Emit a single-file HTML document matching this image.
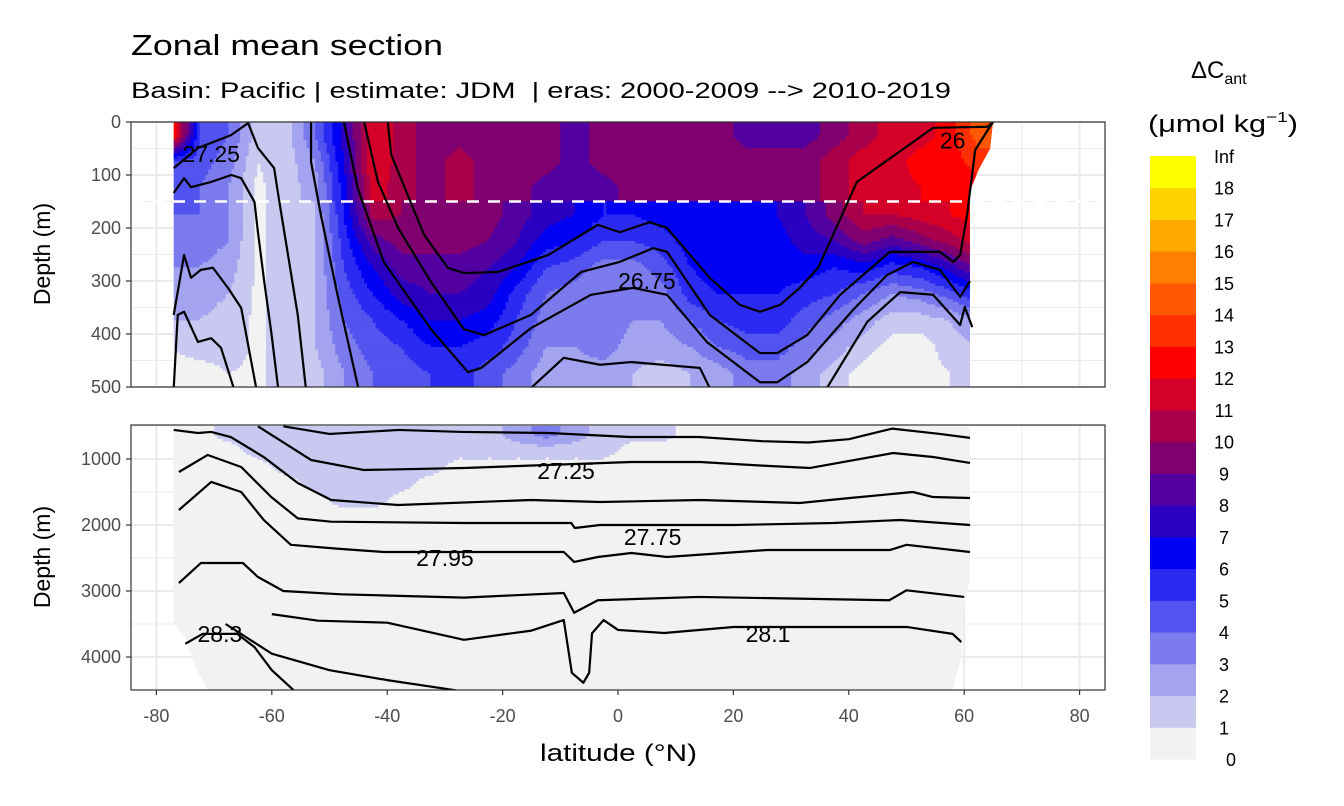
<!DOCTYPE html>
<html><head><meta charset="utf-8">
<style>
html,body{margin:0;padding:0;background:#fff;}
svg{display:block;font-family:"Liberation Sans",Arial,sans-serif;}
</style></head>
<body>
<svg id="chart" width="1344" height="806" viewBox="0 0 1344 806" xmlns="http://www.w3.org/2000/svg">
<rect width="1344" height="806" fill="#fff"/>
<text x="131" y="55" font-size="29" textLength="312" lengthAdjust="spacingAndGlyphs" fill="#000">Zonal mean section</text>
<text x="131" y="98" font-size="22" textLength="820" lengthAdjust="spacingAndGlyphs" fill="#000" xml:space="preserve">Basin: Pacific | estimate: JDM&#160; | eras: 2000-2009 --&gt; 2010-2019</text>
<defs>
<clipPath id="clipTopPanel"><rect x="131" y="122" width="974" height="265"/></clipPath>
<clipPath id="clipBotPanel"><rect x="131" y="425" width="974" height="265"/></clipPath>
<clipPath id="clipTopData"><polygon id="topDataPoly"/></clipPath>
<clipPath id="clipBotData"><polygon id="botDataPoly"/></clipPath>
</defs>
<g id="topPanel"></g>
<g id="botPanel"></g>
<g id="axes"></g>
<g id="legend">
<text x="1191" y="78" font-size="24">ΔC<tspan font-size="16" dy="6">ant</tspan></text>
<text x="1148" y="132" font-size="24" textLength="150" lengthAdjust="spacingAndGlyphs">(μmol kg<tspan font-size="15" dy="-10">−1</tspan><tspan dy="10">)</tspan></text>
</g>
</svg>
<script>
// ---- data ----
const colors = ["#f2f2f2","#c8c8f0","#a3a3f0","#7b7bed","#5353ef","#2a2af2","#0000f5","#2b00c0","#5300a0","#800070","#a8004a","#d40028","#ff0000","#ff3000","#ff5800","#ff8000","#ffa800","#ffd200","#ffff00"];
const legendLabels = ["0","1","2","3","4","5","6","7","8","9","10","11","12","13","14","15","16","17","18","Inf"];
const latCenters = [-77.5,-72.5,-67.5,-62.5,-57.5,-52.5,-47.5,-42.5,-37.5,-32.5,-27.5,-22.5,-17.5,-12.5,-7.5,-2.5,2.5,7.5,12.5,17.5,22.5,27.5,32.5,37.5,42.5,47.5,52.5,57.5,62.5];
const topDepthEdges = [0,50,100,150,200,250,300,350,400,450,500];
const topValues = [
[14,5,4,4,4,3,3,2,1,0.5],
[5,4.5,4,4,3.5,3,2.5,2,1.5,0.5],
[4,3.5,3,3,3,2.5,2,1.5,1.5,1],
[1.5,1,0.8,0.8,0.8,0.8,0.8,0.8,0.8,0.8],
[1.5,1.5,1.5,1.5,1.5,1.5,1.5,1.5,1.5,1.5],
[4,3,2.5,2,2,2,2,2,2,1.5],
[7.5,7,6.5,6,5.5,5,4.5,4,3.5,3],
[12,12,11.5,10.5,8.5,7,6,5,4.5,4],
[10.5,10.5,10.5,10,9.5,8.5,7.5,6,5,4.5],
[9.5,9.5,9.5,9.5,9.5,8.5,8,7,6,5],
[9.5,10.5,10.5,9.5,9.5,8.5,8,7,6,5.5],
[9.5,9.5,9.5,9.5,9,8,7.5,6.5,5.5,4.5],
[9.5,9.5,9.5,8.5,8,7,5.5,5,4.5,3.5],
[9.5,9.5,8.5,7.5,6.5,5,4,3.5,3,2.5],
[8.5,8.5,8.5,7,6,4.5,3.5,3.5,3,2.5],
[9.5,9.5,8.5,6,5,3.5,3.5,4,3.5,2.5],
[9.5,9.5,9.5,6,5,3.5,3,3,2.5,2],
[9.5,9.5,9.5,6.5,5.5,4.5,3.5,3,2.5,1.5],
[9.5,9.5,9.5,6.5,6.5,6,5.5,4,3,2],
[9.5,9.5,9.5,6.5,6.5,6.5,6,5,4,2.5],
[8.5,9.5,9.5,6.5,6.5,6.5,6,5.5,4.5,3.5],
[8.5,9.5,9.5,7,6.5,6.5,6,5.5,4.5,3.5],
[8.5,9.5,9.5,8,7.5,6.5,5.5,4.5,3.5,2.5],
[9.5,10.5,10.5,9.5,8,6,5,3.5,2.5,1.5],
[10.5,11.5,11.5,11,9.5,6.5,4,2.5,1.5,0.5],
[11.5,11.5,11.5,11,8.5,5.5,3,1.5,0.5,0.5],
[11.5,12.5,12,11.5,9.5,6,3.5,1.5,0.5,0.5],
[12.5,12.5,12.5,12,10.5,7.5,4.5,2,1.5,1],
[14.5,13.5,12.5,12.5,11.5,9.5,6,3,2,1.5]
];
const topBreakDepth = 150;
const botDepthEdges = [500,750,1000,1250,1500,1750,2000,4500];
const botValues = [
[0.5,0.5,0.5,0.5,0.5,0.5,0.5],[0.5,0.5,0.5,0.5,0.5,0.5,0.5],[1.5,0.5,0.5,0.5,0.5,0.5,0.5],
[1.5,1.5,0.5,0.5,0.5,0.5,0.5],[1.5,1.5,1.5,0.5,0.5,0.5,0.5],[1.5,1.5,1.5,1.5,0.5,0.5,0.5],
[1.5,1.5,1.5,1.5,1.5,0.5,0.5],[1.5,1.5,1.5,1.5,1.5,0.5,0.5],[1.5,1.5,1.5,1.5,0.5,0.5,0.5],
[1.5,1.5,1.5,0.5,0.5,0.5,0.5],[1.5,1.5,0.5,0.5,0.5,0.5,0.5],[1.5,1.5,0.5,0.5,0.5,0.5,0.5],
[2.5,1.5,0.5,0.5,0.5,0.5,0.5],[3.5,1.5,0.5,0.5,0.5,0.5,0.5],[2.5,1.5,0.5,0.5,0.5,0.5,0.5],
[1.5,1.5,0.5,0.5,0.5,0.5,0.5],[1.5,0.5,0.5,0.5,0.5,0.5,0.5],[1.5,0.5,0.5,0.5,0.5,0.5,0.5],
[0.5,0.5,0.5,0.5,0.5,0.5,0.5],[0.5,0.5,0.5,0.5,0.5,0.5,0.5],[0.5,0.5,0.5,0.5,0.5,0.5,0.5],
[0.5,0.5,0.5,0.5,0.5,0.5,0.5],[0.5,0.5,0.5,0.5,0.5,0.5,0.5],[0.5,0.5,0.5,0.5,0.5,0.5,0.5],
[0.5,0.5,0.5,0.5,0.5,0.5,0.5],[0.5,0.5,0.5,0.5,0.5,0.5,0.5],[0.5,0.5,0.5,0.5,0.5,0.5,0.5],
[0.5,0.5,0.5,0.5,0.5,0.5,0.5],[0.5,0.5,0.5,0.5,0.5,0.5,0.5]
];
// data extents [depth, lat]
const topLeftEdge = [[0,-77],[500,-77]];
const topRightEdge = [[0,65],[50,64.5],[90,62.5],[130,61],[500,61]];
const botLeftEdge = [[500,-77],[3500,-77],[3700,-75],[4200,-73],[4500,-71]];
const botRightEdge = [[500,61],[2800,61],[3200,60],[4000,59.5],[4500,58]];
// isopycnals [lat, depth]
const topLines = [
[[-77,87],[-72.8,49],[-67.1,25],[-64.1,2],[-62.4,49],[-59.6,87],[-58.8,143],[-55.5,364],[-54.1,502]],
[[-77,134],[-75.2,106],[-74,123],[-70.5,113],[-67,100],[-65.3,106],[-63,151],[-62.4,208],[-61.3,302],[-60.1,396],[-58.9,502]],
[[-77,364],[-75.2,251],[-74,294],[-72.3,279],[-70.2,275],[-67.6,313],[-65.3,351],[-62.7,502]],
[[-77,502],[-76.3,364],[-75.2,358],[-72.8,415],[-70.5,408],[-68.8,426],[-66.6,502]],
[[-53.2,0],[-53.2,75],[-51.5,175],[-48.5,332],[-45,502]],
[[-47.5,0],[-45.1,125],[-40.6,264],[-32.4,391],[-26,472],[-23.7,464],[-15.1,389],[-4.7,326],[2.6,313],[8.5,326],[15.4,415],[24.6,491],[27.6,491],[32.8,453],[40.7,355],[46.6,289],[51.1,264],[55.8,279],[59.3,330],[61,300]],
[[-44,0],[-41.6,113],[-38.1,200],[-32.4,302],[-26.7,391],[-23.2,402],[-15.1,364],[-6.4,283],[0.3,264],[6.1,238],[8.5,245],[15.9,364],[24.6,436],[27.6,436],[32.8,402],[38.5,326],[47.1,245],[55.8,245],[58.1,264],[59.3,251],[60.5,175],[61.9,53],[64.1,15],[65,0]],
[[-39.9,0],[-39.3,62],[-33.6,213],[-29.5,275],[-26.7,285],[-20.8,283],[-12.1,251],[-3.5,194],[0.3,208],[5.5,189],[8.5,200],[15.9,294],[21.1,345],[24.6,358],[28.1,345],[31.5,313],[34.7,275],[41.4,113],[54.6,11],[64,9],[65,0]],
[[-15.1,502],[-9.4,445],[-3.1,458],[2.3,453],[14.2,464],[15.9,502]],
[[36.2,502],[43.2,377],[48.9,321],[54.6,326],[59.3,383],[60.1,349],[61.4,387]]
];
const botLines = [
[[-58,505],[-50,620],[-38,560],[-27,590],[-12,606],[2,667],[14,667],[25,730],[33,750],[40,700],[47.5,540],[55.8,620],[61,680]],
[[-62.4,505],[-53.2,1015],[-44,1167],[-26.7,1136],[2.3,1045],[14.2,1045],[25,1100],[33.3,1136],[47.7,909],[54.6,970],[61,1060]],
[[-77,560],[-72.8,606],[-70.5,590],[-67.1,667],[-61.4,970],[-55.5,1364],[-49.7,1621],[-38.1,1697],[-15.1,1621],[-3.1,1652],[14.2,1621],[31.5,1667],[40.2,1591],[51.1,1500],[54.6,1576],[61,1591]],
[[-76.1,1197],[-71.1,939],[-65.3,1121],[-60.1,1576],[-55.5,1900],[-49.7,1950],[-26.7,1970],[-8.1,1970],[-7.5,2045],[-3.1,2000],[20,2000],[37.3,1970],[48.9,1924],[61,2000]],
[[-76.1,1773],[-70.5,1348],[-65.3,1500],[-61.4,1924],[-56.7,2300],[-48.5,2360],[-40.6,2409],[-9.4,2409],[-7.6,2560],[-3.5,2485],[2.3,2424],[8.5,2485],[25.8,2379],[47.1,2379],[50,2300],[61,2409]],
[[-76.1,2879],[-72.3,2576],[-65,2576],[-62.4,2788],[-58,3000],[-48,3050],[-26.7,3100],[-9.4,3030],[-7.6,3330],[-3.5,3140],[14,3090],[47,3140],[50,2990],[60,3090]],
[[-60,3350],[-52,3450],[-40,3480],[-26.7,3740],[-15,3600],[-9.4,3440],[-8,4240],[-6,4390],[-5,4240],[-4.5,3640],[-2.5,3440],[0,3590],[8,3636],[20,3545],[50,3545],[58,3650],[59.5,3773]],
[[-68,3500],[-60,3950],[-50,4200],[-40,4350],[-30,4480],[-27,4520]],
[[-75,3800],[-72,3650],[-66,3650],[-63,3850],[-60,4200],[-56,4520]]
];
const topLabels = [["27.25",-70.5,60],["26.75",5,300],["26",58,35]];
const botLabels = [["27.25",-9,1180],["27.75",6,2180],["27.95",-30,2500],["28.3",-69,3650],["28.1",26,3650]];
const xTicks = [-80,-60,-40,-20,0,20,40,60,80];
const xMinor = [-70,-50,-30,-10,10,30,50,70];
const topYTicks = [0,100,200,300,400,500];
const topYMinor = [50,150,250,350,450];
const botYTicks = [1000,2000,3000,4000];
const botYMinor = [500,1500,2500,3500,4500];

// ---- scales ----
const NS="http://www.w3.org/2000/svg";
const x = lat => 618 + lat*5.77;
const yT = d => 122 + d*0.53;
const yB = d => 459 + (d-1000)*0.066;
const colorOf = v => colors[Math.max(0,Math.min(18,Math.floor(v)))];
function mk(tag, attrs, parent){const e=document.createElementNS(NS,tag);for(const k in attrs)e.setAttribute(k,attrs[k]);parent.appendChild(e);return e;}

function locate(arr, v, lo, hi){
  if(v<=arr[lo]) return [lo,lo,0];
  if(v>=arr[hi]) return [hi,hi,0];
  for(let i=lo;i<hi;i++){ if(v>=arr[i]&&v<=arr[i+1]) return [i,i+1,(v-arr[i])/(arr[i+1]-arr[i])]; }
  return [hi,hi,0];
}
// bilinear sampling of the gridded field (display only); no interpolation across breakDepth
function sample(values, depthCenters, edges, breakDepth, lat, d){
  const [i0,i1,fx]=locate(latCenters,lat,0,latCenters.length-1);
  let lo=0, hi=depthCenters.length-1;
  if(breakDepth!==null){
    const bi = edges.indexOf(breakDepth);
    if(d<breakDepth) hi=bi-1; else lo=bi;
  }
  const [j0,j1,fy]=locate(depthCenters,d,lo,hi);
  const a=values[i0][j0]*(1-fx)+values[i1][j0]*fx;
  const b=values[i0][j1]*(1-fx)+values[i1][j1]*fx;
  return a*(1-fy)+b*fy;
}

function panel(g, yS, y0, y1, yt, ym, values, edges, breakDepth, dStep, leftE, rightE, polyId, clipId, lines, labels, prefix){
  const grid = mk('g',{},g);
  
  
  xMinor.forEach(v=>mk('line',{x1:x(v),x2:x(v),y1:y0,y2:y1,stroke:'#ebebeb','stroke-width':1},grid));
  xTicks.forEach(v=>mk('line',{x1:x(v),x2:x(v),y1:y0,y2:y1,stroke:'#ebebeb','stroke-width':2},grid));
  ym.forEach(v=>{const yy=yS(v); if(yy>y0&&yy<y1) mk('line',{x1:131,x2:1105,y1:yy,y2:yy,stroke:'#ebebeb','stroke-width':1},grid);});
  yt.forEach(v=>mk('line',{x1:131,x2:1105,y1:yS(v),y2:yS(v),stroke:'#ebebeb','stroke-width':2},grid));
  const pts=[]; leftE.forEach(p=>pts.push(x(p[1])+','+yS(p[0])));
  rightE.slice().reverse().forEach(p=>pts.push(x(p[1])+','+yS(p[0])));
  document.getElementById(polyId).setAttribute('points', pts.join(' '));
  const outer = mk('g',{'clip-path':'url(#'+clipId+')'},g);
  
  
  const dc = edges.slice(0,-1).map((e,j)=>(e+edges[j+1])/2);
  const dTop=edges[0], dBot=edges[edges.length-1];
  const latStep=0.5, lat0=-78, lat1=66;
  for(let d=dTop; d<dBot; d+=dStep){
    const dm=d+dStep/2;
    let runStart=lat0, runCol=null;
    for(let la=lat0; la<=lat1+1e-9; la+=latStep){
      const c = la<lat1 ? colorOf(sample(values,dc,edges,breakDepth,la+latStep/2,dm)) : null;
      if(c!==runCol){
        if(runCol!==null){
          const r=mk('rect',{x:x(runStart),y:yS(d)-0.3,width:x(la)-x(runStart)+0.6,height:yS(d+dStep)-yS(d)+0.6,fill:runCol},outer);
          
          
        }
        runStart=la; runCol=c;
      }
    }
  }
  const lg = mk('g',{'clip-path':'url(#clip'+(prefix==='upper'?'TopPanel':'BotPanel')+')'},g);
  
  
  if(prefix==='upper'){
    const dl = mk('line',{x1:131,x2:1105,y1:yS(150),y2:yS(150),stroke:'#fff','stroke-width':2.5,'stroke-dasharray':'12,9'},lg);
    
    
  }
  lines.forEach(L=>{
    const p = mk('polyline',{points:L.map(q=>x(q[0])+','+yS(q[1])).join(' '),fill:'none',stroke:'#000','stroke-width':2.2,'stroke-linejoin':'round'},lg);
    
    
  });
  labels.forEach(l=>{
    const t = mk('text',{x:x(l[1]),y:yS(l[2])+8,'font-size':23,'text-anchor':'middle',fill:'#000'},lg);
    t.textContent=l[0];
    
    
  });
  const b = mk('rect',{x:131,y:y0,width:974,height:y1-y0,fill:'none',stroke:'#333','stroke-width':1.2},g);
  
  
}
panel(document.getElementById('topPanel'), yT, 122, 387, topYTicks, topYMinor, topValues, topDepthEdges, topBreakDepth, 5, topLeftEdge, topRightEdge, 'topDataPoly','clipTopData', topLines, topLabels, 'upper');
panel(document.getElementById('botPanel'), yB, 425, 690, botYTicks, botYMinor, botValues, botDepthEdges, null, 40, botLeftEdge, botRightEdge, 'botDataPoly','clipBotData', botLines, botLabels, 'lower');

const ax = document.getElementById('axes');
xTicks.forEach(v=>{
  mk('line',{x1:x(v),x2:x(v),y1:690,y2:695,stroke:'#333','stroke-width':1.2},ax);
  const t=mk('text',{x:x(v),y:722,'font-size':18,'text-anchor':'middle',fill:'#4d4d4d'},ax);
  t.textContent=v;
  
  
});
[[topYTicks,yT],[botYTicks,yB]].forEach(([ticks,s])=>ticks.forEach(v=>{
  mk('line',{x1:126,x2:131,y1:s(v),y2:s(v),stroke:'#333','stroke-width':1.2},ax);
  const t=mk('text',{x:121,y:s(v)+6,'font-size':18,'text-anchor':'end',fill:'#4d4d4d'},ax);
  t.textContent=v;
  
  
}));
let t=mk('text',{x:540,y:761,'font-size':24,textLength:157,lengthAdjust:'spacingAndGlyphs'},ax); t.textContent='latitude (°N)';


t=mk('text',{x:0,y:0,'font-size':23,'text-anchor':'middle',transform:'translate(50,254) rotate(-90)'},ax); t.textContent='Depth (m)';


t=mk('text',{x:0,y:0,'font-size':23,'text-anchor':'middle',transform:'translate(50,557) rotate(-90)'},ax); t.textContent='Depth (m)';



const lgd = document.getElementById('legend');
const barTop=156, barBot=759, binH=(barBot-barTop)/colors.length;
colors.forEach((c,i)=>{
  const r=mk('rect',{x:1150,y:barBot-(i+1)*binH,width:46,height:binH+0.5,fill:c},lgd);
  
  
});
legendLabels.forEach((l,i)=>{
  const tt=mk('text',{x:l==='0'?1231:1224,y:barBot-i*binH+7,'font-size':18,'text-anchor':'middle'},lgd);
  tt.textContent=l;
  
  
});
</script>
</body></html>
